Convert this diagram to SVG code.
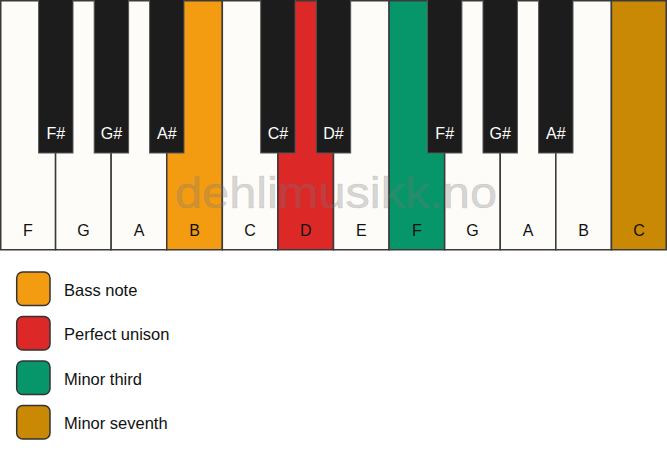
<svg xmlns="http://www.w3.org/2000/svg" width="667" height="461" viewBox="0 0 667 461">
<style>
.w{fill:#fdfcf9;stroke:#3a3a3a;stroke-width:1.5}
.b{fill:#1c1c1c;stroke:#555;stroke-width:1}
.bass{fill:#f39c12}
.uni{fill:#dd2828}
.m3{fill:#079669}
.m7{fill:#c98905}
.lt{font-family:"Liberation Sans",Arial,sans-serif;font-size:16px;fill:#111;text-anchor:middle}
.bt{font-family:"Liberation Sans",Arial,sans-serif;font-size:16px;fill:#fff;text-anchor:middle}
.leg{stroke:#333;stroke-width:1.5}
.lgt{font-family:"Liberation Sans",Arial,sans-serif;font-size:16.5px;fill:#111}
</style>
<rect width="667" height="461" fill="#ffffff"/>
<g id="white-keys">
<g id="key-F1"><rect class="w" x="0.75" y="0.75" width="54.83" height="249"/><text class="lt" x="27.8" y="235.5">F</text></g>
<g id="key-G1"><rect class="w" x="55.58" y="0.75" width="55.58" height="249"/><text class="lt" x="83.4" y="235.5">G</text></g>
<g id="key-A1"><rect class="w" x="111.17" y="0.75" width="55.58" height="249"/><text class="lt" x="139" y="235.5">A</text></g>
<g id="key-B1"><rect class="w bass" x="166.75" y="0.75" width="55.58" height="249"/><text class="lt" x="194.5" y="235.5">B</text></g>
<g id="key-C1"><rect class="w" x="222.33" y="0.75" width="55.58" height="249"/><text class="lt" x="250.1" y="235.5">C</text></g>
<g id="key-D1"><rect class="w uni" x="277.92" y="0.75" width="55.58" height="249"/><text class="lt" x="305.7" y="235.5">D</text></g>
<g id="key-E1"><rect class="w" x="333.5" y="0.75" width="55.58" height="249"/><text class="lt" x="361.3" y="235.5">E</text></g>
<g id="key-F2"><rect class="w m3" x="389.08" y="0.75" width="55.58" height="249"/><text class="lt" x="416.9" y="235.5">F</text></g>
<g id="key-G2"><rect class="w" x="444.67" y="0.75" width="55.58" height="249"/><text class="lt" x="472.5" y="235.5">G</text></g>
<g id="key-A2"><rect class="w" x="500.25" y="0.75" width="55.58" height="249"/><text class="lt" x="528" y="235.5">A</text></g>
<g id="key-B2"><rect class="w" x="555.83" y="0.75" width="55.58" height="249"/><text class="lt" x="583.6" y="235.5">B</text></g>
<g id="key-C2"><rect class="w m7" x="611.42" y="0.75" width="54.83" height="249"/><text class="lt" x="639" y="235.5">C</text></g>
</g>
<g id="black-keys">
<g id="key-Fs1"><rect class="b" x="38.6" y="-1" width="34.4" height="154"/><text class="bt" x="55.8" y="139">F#</text></g>
<g id="key-Gs1"><rect class="b" x="94.2" y="-1" width="34.4" height="154"/><text class="bt" x="111.4" y="139">G#</text></g>
<g id="key-As1"><rect class="b" x="149.6" y="-1" width="34.4" height="154"/><text class="bt" x="166.8" y="139">A#</text></g>
<g id="key-Cs1"><rect class="b" x="260.7" y="-1" width="34.4" height="154"/><text class="bt" x="277.9" y="139">C#</text></g>
<g id="key-Ds1"><rect class="b" x="316.3" y="-1" width="34.4" height="154"/><text class="bt" x="333.5" y="139">D#</text></g>
<g id="key-Fs2"><rect class="b" x="427.5" y="-1" width="34.4" height="154"/><text class="bt" x="444.7" y="139">F#</text></g>
<g id="key-Gs2"><rect class="b" x="483" y="-1" width="34.4" height="154"/><text class="bt" x="500.2" y="139">G#</text></g>
<g id="key-As2"><rect class="b" x="538.6" y="-1" width="34.4" height="154"/><text class="bt" x="555.8" y="139">A#</text></g>
</g>
<text x="175" y="208" font-family="'Liberation Sans',Arial,sans-serif" font-size="45" fill="#777" fill-opacity="0.28" stroke="#777" stroke-opacity="0.28" stroke-width="0.6" textLength="322" lengthAdjust="spacingAndGlyphs">dehlimusikk.no</text>
<g id="legend">
<g id="legend-bass"><rect class="leg bass" x="16.7" y="272" width="33.3" height="33.5" rx="6"/><text class="lgt" x="64" y="295.5">Bass note</text></g>
<g id="legend-unison"><rect class="leg uni" x="16.7" y="316.5" width="33.3" height="33.5" rx="6"/><text class="lgt" x="64" y="340">Perfect unison</text></g>
<g id="legend-third"><rect class="leg m3" x="16.7" y="361" width="33.3" height="33.5" rx="6"/><text class="lgt" x="64" y="384.5">Minor third</text></g>
<g id="legend-seventh"><rect class="leg m7" x="16.7" y="405.5" width="33.3" height="33.5" rx="6"/><text class="lgt" x="64" y="429">Minor seventh</text></g>
</g>
</svg>
